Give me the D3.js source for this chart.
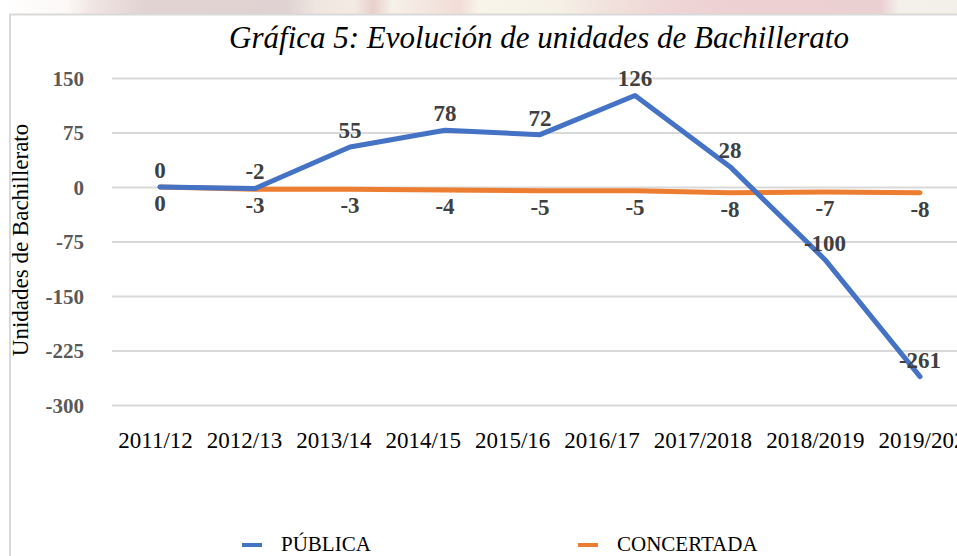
<!DOCTYPE html>
<html>
<head>
<meta charset="utf-8">
<script src="https://cdn.jsdelivr.net/npm/d3@7"></script>
<style>
  html, body { margin: 0; padding: 0; background: #fff; overflow: hidden; }
  svg { display: block; }
</style>
</head>
<body>
<svg id="chart" width="957" height="556"></svg>
<script>
const categories = ["2011/12", "2012/13", "2013/14", "2014/15", "2015/16", "2016/17", "2017/2018", "2018/2019", "2019/2020"];
const publica = [0, -2, 55, 78, 72, 126, 28, -100, -261];
const concertada = [0, -3, -3, -4, -5, -5, -8, -7, -8];
const yTicks = [150, 75, 0, -75, -150, -225, -300];
const seriesNames = ["PÚBLICA", "CONCERTADA"];
const titleText = "Gráfica 5: Evolución de unidades de Bachillerato";
const yAxisTitle = "Unidades de Bachillerato";

const W = 957, H = 556;
const svg = d3.select("#chart");
const serif = "'Liberation Serif', 'Times New Roman', serif";
const blue = "#4472C4", orange = "#ED7D31";

// faint watermark strip above the chart frame
const defs = svg.append("defs");
const grad = defs.append("linearGradient").attr("id", "wm").attr("x1", 0).attr("x2", 1).attr("y1", 0).attr("y2", 0);
[[0, "#ffffff"], [0.07, "#fbf8f6"], [0.1, "#efe4e2"], [0.15, "#e2d3d3"], [0.3, "#e0d2d2"], [0.33, "#efe6e0"],
 [0.37, "#f3ebe3"], [0.39, "#e9cfcc"], [0.41, "#f6f1e8"], [0.48, "#f2dcd8"], [0.5, "#f8f4ea"], [0.58, "#f6f1e6"],
 [0.63, "#f1e3de"], [0.7, "#efd5d5"], [0.78, "#edd0d2"], [0.92, "#ebd0d2"], [0.94, "#f4f0ea"], [1, "#f3efe9"]]
  .forEach(([o, c]) => grad.append("stop").attr("offset", o).attr("stop-color", c));
svg.append("rect").attr("x", 0).attr("y", 0).attr("width", W).attr("height", 14).attr("fill", "url(#wm)");

// chart frame
svg.append("rect").attr("x", 10).attr("y", 14.5).attr("width", W + 20).attr("height", H + 20)
  .attr("fill", "#fff").attr("stroke", "#d9d9d9").attr("stroke-width", 2);

const x = d3.scalePoint().domain(categories).range([160, 920]);
const y = d3.scaleLinear().domain([-300, 150]).range([405, 78]);
const plotLeft = 112, plotRight = 975;

// y axis with gridlines
const yAxis = svg.append("g")
  .attr("transform", `translate(${plotLeft},0)`)
  .call(d3.axisLeft(y).tickValues(yTicks).tickSize(-(plotRight - plotLeft)).tickPadding(28).tickFormat(d => String(d)));
yAxis.select(".domain").remove();
yAxis.selectAll(".tick line").attr("stroke", "#d9d9d9").attr("stroke-width", 2);
yAxis.selectAll(".tick text").attr("fill", "#595959").attr("font-family", serif)
  .attr("font-size", 21).attr("font-weight", "bold").attr("dy", "0.34em");

// x axis labels
const xAxis = svg.append("g")
  .attr("transform", `translate(0,${y(-300)})`)
  .call(d3.axisBottom(x).tickSize(0).tickPadding(27));
xAxis.select(".domain").remove();
xAxis.selectAll(".tick text").attr("fill", "#000").attr("font-family", serif).attr("font-size", 23);
// labels are laid out one after another (as in the reference rendering)
{
  let cursor = null;
  xAxis.selectAll(".tick").each(function(d) {
    const t = d3.select(this).select("text");
    const w = t.node().getComputedTextLength();
    const px = x(d);
    if (cursor === null) cursor = px - w / 2 - 5;
    t.attr("x", cursor + w / 2 - px);
    cursor += w + 14;
  });
}

// lines
const line = d3.line().x((d, i) => x(categories[i])).y(d => y(d));
svg.append("path").datum(concertada).attr("d", line).attr("fill", "none").attr("stroke", orange)
  .attr("stroke-width", 5).attr("stroke-linecap", "round").attr("stroke-linejoin", "round");
svg.append("path").datum(publica).attr("d", line).attr("fill", "none").attr("stroke", blue)
  .attr("stroke-width", 5).attr("stroke-linecap", "round").attr("stroke-linejoin", "round");

// data labels
svg.append("g").selectAll("text").data(concertada).join("text")
  .attr("x", (d, i) => x(categories[i])).attr("y", d => y(d) + 24)
  .attr("text-anchor", "middle").attr("font-family", serif).attr("font-size", 23).attr("font-weight", "bold")
  .attr("fill", "#404040").text(d => String(d));
svg.append("g").selectAll("text").data(publica).join("text")
  .attr("x", (d, i) => x(categories[i])).attr("y", d => y(d) - 9)
  .attr("text-anchor", "middle").attr("font-family", serif).attr("font-size", 23).attr("font-weight", "bold")
  .attr("fill", "#404040").text(d => String(d));

// title
svg.append("text").attr("x", 539).attr("y", 48).attr("text-anchor", "middle")
  .attr("font-family", serif).attr("font-style", "italic").attr("font-size", 31).attr("fill", "#000")
  .text(titleText);

// y axis title
svg.append("text").attr("transform", "translate(28,240) rotate(-90)").attr("text-anchor", "middle")
  .attr("font-family", serif).attr("font-size", 23).attr("fill", "#000").text(yAxisTitle);

// legend
const legendX = [242, 578];
const colors = [blue, orange];
const lg = svg.append("g").selectAll("g").data(seriesNames).join("g")
  .attr("transform", (d, i) => `translate(${legendX[i]},545)`);
lg.append("line").attr("x1", 0).attr("x2", 20).attr("y1", 0).attr("y2", 0)
  .attr("stroke", (d, i) => colors[i]).attr("stroke-width", 4);
lg.append("text").attr("x", 39).attr("y", 6).attr("font-family", serif).attr("font-size", 21)
  .attr("fill", "#000").text(d => d);
</script>
</body>
</html>
